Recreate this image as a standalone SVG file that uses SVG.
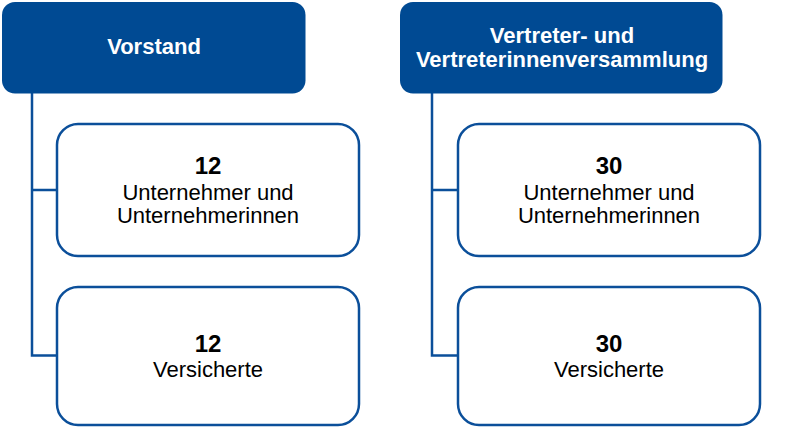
<svg xmlns="http://www.w3.org/2000/svg" width="800" height="427" viewBox="0 0 800 427">
<style>
.hdr{fill:#004a93;}
.box{fill:#fff;stroke:#0b4f9a;stroke-width:2.5;}
.con{fill:none;stroke:#0b4f9a;stroke-width:2.5;}
.ht{font-family:"Liberation Sans",Arial,sans-serif;font-weight:bold;font-size:22px;fill:#fff;text-anchor:middle;}
.num{font-family:"Liberation Sans",Arial,sans-serif;font-weight:bold;font-size:24px;fill:#000;text-anchor:middle;}
.lbl{font-family:"Liberation Sans",Arial,sans-serif;font-size:22px;fill:#000;text-anchor:middle;}
</style>
<g id="connectors">
<path class="con" d="M32,93 V355.5 H57 M32,190 H57"/>
<path class="con" d="M432,93 V355.5 H458 M432,190 H458"/>
</g>
<g id="vorstand">
<rect class="hdr" x="2" y="2" width="303.5" height="91.5" rx="13"/>
<text class="ht" x="154" y="54">Vorstand</text>
</g>
<g id="vv">
<rect class="hdr" x="400" y="2" width="322.5" height="91.5" rx="13"/>
<text class="ht" x="562" y="43">Vertreter- und</text>
<text class="ht" x="562" y="66.5">Vertreterinnenversammlung</text>
</g>
<g id="v-unternehmer">
<rect class="box" x="57" y="124" width="302" height="132" rx="21"/>
<text class="num" x="208" y="173.5">12</text>
<text class="lbl" x="208" y="200">Unternehmer und</text>
<text class="lbl" x="208" y="222.5">Unternehmerinnen</text>
</g>
<g id="v-versicherte">
<rect class="box" x="57" y="287" width="302" height="138" rx="21"/>
<text class="num" x="208" y="352">12</text>
<text class="lbl" x="208" y="376.5">Versicherte</text>
</g>
<g id="vv-unternehmer">
<rect class="box" x="458" y="124" width="302" height="132" rx="21"/>
<text class="num" x="609" y="173.5">30</text>
<text class="lbl" x="609" y="200">Unternehmer und</text>
<text class="lbl" x="609" y="222.5">Unternehmerinnen</text>
</g>
<g id="vv-versicherte">
<rect class="box" x="458" y="287" width="302" height="138" rx="21"/>
<text class="num" x="609" y="352">30</text>
<text class="lbl" x="609" y="376.5">Versicherte</text>
</g>
</svg>
